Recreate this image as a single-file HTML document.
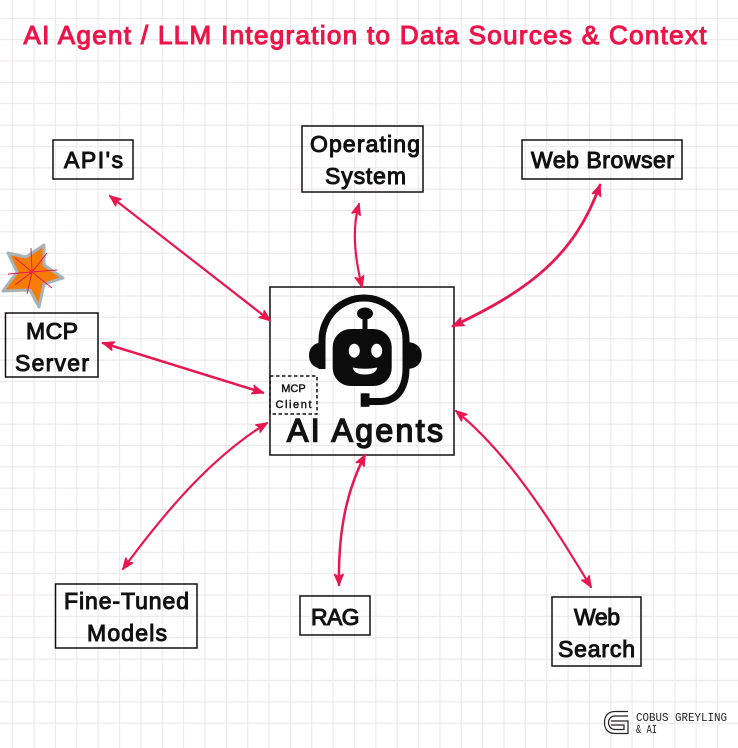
<!DOCTYPE html>
<html><head><meta charset="utf-8"><style>
html,body{margin:0;padding:0;background:#fff}
svg{display:block}
text{font-family:"Liberation Sans",sans-serif;fill:#111;stroke:#111;stroke-width:1;paint-order:stroke}
</style></head><body>
<svg width="738" height="748" viewBox="0 0 738 748" xmlns="http://www.w3.org/2000/svg">
<defs>
<marker id="a" viewBox="0 0 14 14" refX="13" refY="7" markerWidth="14" markerHeight="14" markerUnits="userSpaceOnUse" orient="auto-start-reverse">
<path d="M2.500 2.800L12.800 7L2.500 11.200L5 7Z" fill="#e8174f" stroke="#e8174f" stroke-width="1.600" stroke-linejoin="round"/>
</marker>
</defs>
<rect width="738" height="748" fill="#fff"/>
<path fill="none" stroke="#eee9ec" stroke-width="1.200" d="M12.700 0V748M34.100 0V748M55.400 0V748M76.800 0V748M98.100 0V748M119.500 0V748M140.900 0V748M162.200 0V748M183.600 0V748M204.900 0V748M226.300 0V748M247.700 0V748M269 0V748M290.400 0V748M311.700 0V748M333.100 0V748M354.500 0V748M375.800 0V748M397.200 0V748M418.500 0V748M439.900 0V748M461.300 0V748M482.600 0V748M504 0V748M525.300 0V748M546.700 0V748M568.100 0V748M589.400 0V748M610.800 0V748M632.100 0V748M653.500 0V748M674.900 0V748M696.200 0V748M717.600 0V748M0 18.300H738M0 39.700H738M0 61H738M0 82.400H738M0 103.700H738M0 125.100H738M0 146.500H738M0 167.800H738M0 189.200H738M0 210.500H738M0 231.900H738M0 253.300H738M0 274.600H738M0 296H738M0 317.300H738M0 338.700H738M0 360.100H738M0 381.400H738M0 402.800H738M0 424.100H738M0 445.500H738M0 466.900H738M0 488.200H738M0 509.600H738M0 530.900H738M0 552.300H738M0 573.700H738M0 595H738M0 616.400H738M0 637.700H738M0 659.100H738M0 680.500H738M0 701.800H738M0 723.200H738"/>

<text x="23.500" y="44" font-size="26" textLength="683" style="fill:#ec1548;stroke:#ec1548;stroke-width:1.100">AI Agent / LLM Integration to Data Sources &amp; Context</text>

<g fill="none" stroke="#111" stroke-width="1.500">
<rect x="53" y="140" width="80" height="39"/>
<rect x="302" y="126" width="121" height="66"/>
<rect x="522" y="140" width="160" height="39"/>
<rect x="5.500" y="313" width="92.500" height="64"/>
<rect x="55.500" y="584" width="141.500" height="64"/>
<rect x="300" y="596" width="70" height="39"/>
<rect x="552" y="597" width="89" height="69"/>
<rect x="270" y="287" width="184" height="168"/>
</g>

<g fill="none" stroke="#e8174f" stroke-width="2.200" stroke-linecap="round">
<path d="M110 196L270 320.500" marker-start="url(#a)" marker-end="url(#a)"/>
<path d="M359 204C353 225 353 250 362 287" marker-start="url(#a)" marker-end="url(#a)"/>
<path d="M600 185C575 255 530 290 453 326" stroke-width="2.800" marker-start="url(#a)" marker-end="url(#a)"/>
<path d="M103 343L263 392.700" stroke-width="2.500" marker-start="url(#a)" marker-end="url(#a)"/>
<path d="M267 423C215 455 170 505 123 569" marker-start="url(#a)" marker-end="url(#a)"/>
<path d="M365 455C347 490 338 530 339 585" stroke-width="2.500" marker-start="url(#a)" marker-end="url(#a)"/>
<path d="M456 411C510 455 550 520 591 587" marker-start="url(#a)" marker-end="url(#a)"/>
</g>

<g fill="#0c0c0c">
<rect x="332.700" y="329" width="59" height="57" rx="18"/>
<ellipse cx="365" cy="313.500" rx="8" ry="6"/>
<rect x="362.500" y="314" width="5" height="17"/>
<path d="M325 342C315 342 309 347 309 355.500C309 364 315 369 325 369Z"/>
<path d="M405.700 342C416 342 421.700 347 421.700 355.500C421.700 364 416 369 405.700 369Z"/>
<rect x="360.700" y="393.300" width="8.800" height="13.500"/>
</g>
<path d="M322 369V340A42 42 0 0 1 406 340V368C406 388 397 401.500 380 401.500H364" fill="none" stroke="#0c0c0c" stroke-width="7"/>
<ellipse cx="354.300" cy="350.700" rx="5.500" ry="7" fill="#fff"/>
<ellipse cx="376.700" cy="350.700" rx="5.500" ry="7" fill="#fff"/>
<path d="M352.700 367.500Q365 370 377.300 367.500Q376 374.500 365 374.500Q354 374.500 352.700 367.500Z" fill="#fff"/>

<rect x="270" y="376" width="47" height="38" fill="none" stroke="#111" stroke-width="1.500" stroke-dasharray="3.500 2.500"/>
<text x="293.500" y="392" font-size="11" text-anchor="middle" style="stroke-width:.4">MCP</text>
<text x="275.500" y="408" font-size="11" style="stroke-width:.4" textLength="36">Client</text>
<text x="287" y="441.500" font-size="32" textLength="156" style="stroke-width:1.500">AI Agents</text>

<g font-size="23">
<text x="64" y="168" textLength="59">API's</text>
<text x="310" y="152" textLength="110">Operating</text>
<text x="325" y="184" textLength="81">System</text>
<text x="531" y="168" textLength="143">Web Browser</text>
<text x="26" y="339" textLength="52">MCP</text>
<text x="15" y="371" textLength="74">Server</text>
<text x="64" y="609" textLength="125">Fine-Tuned</text>
<text x="87" y="641" textLength="80">Models</text>
<text x="311" y="625" textLength="48.500">RAG</text>
<text x="574" y="625" textLength="46">Web</text>
<text x="558" y="657" textLength="77">Search</text>
</g>

<path d="M8 253L26 257L44 245L44 265L63 278L44 284L39 307L30 290L3 291L17 272Z" fill="#f57c00" stroke="#a8b2ba" stroke-width="3" stroke-linejoin="round"/>
<g stroke="#e8174f" stroke-width="1" fill="none">
<path d="M32 272L31 248M32 272L57 270M32 272L8 274M32 272L47 253M32 272L52 288M32 272L27 294M32 272L15 258M32 272L15 285"/>
</g>

<g fill="none" stroke="#222" stroke-width="1.200">
<path d="M628 711.500H615C608 711.500 604.500 716 604.500 722.500C604.500 729 608 733.500 615 733.500H628V721H611"/>
<path d="M628 716H615C611 716 608.500 719 608.500 722.500C608.500 726 611 729.500 615 729.500H624V725H611"/>
</g>
<text x="636" y="721" font-size="12" textLength="91" lengthAdjust="spacingAndGlyphs" style="font-family:'Liberation Mono',monospace;fill:#222;stroke:none">COBUS GREYLING</text>
<text x="636" y="733" font-size="12" textLength="21" lengthAdjust="spacingAndGlyphs" style="font-family:'Liberation Mono',monospace;fill:#222;stroke:none">&amp; AI</text>
</svg>
</body></html>
